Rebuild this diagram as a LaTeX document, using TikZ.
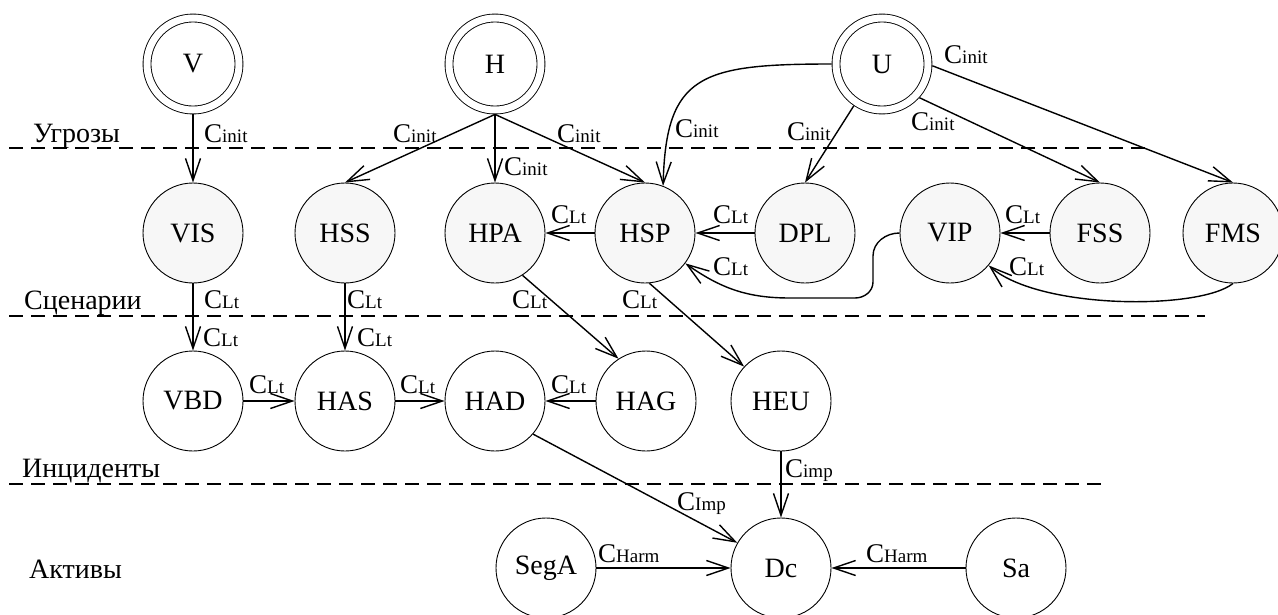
\documentclass[tikz,border=0pt]{standalone}
\usepackage{fontspec}
\setmainfont{Liberation Serif}
\usetikzlibrary{arrows.meta}

% "C" with a smaller index on the same baseline
\newcommand\clab[1]{C{\fontsize{19}{20}\selectfont #1}}

\tikzset{
  base/.style={circle, draw, line width=0.9pt, minimum size=100pt, inner sep=0pt,
               fill=white, font=\fontsize{28}{30}\selectfont},
  threat/.style={base, minimum size=92pt, double, double distance=7pt, outer sep=4.4pt},
  scen/.style={base, fill=gray!6},
  link/.style={line width=1.4pt, -{Straight Barb[length=22pt,width=15pt]}},
  lab/.style={anchor=base west, inner sep=0pt, font=\fontsize{27}{30}\selectfont},
  sec/.style={anchor=base west, inner sep=0pt, font=\fontsize{28}{30}\selectfont},
  layer/.style={line width=1.3pt, dash pattern=on 14pt off 8pt},
}

\begin{document}
\begin{tikzpicture}[x=1pt, y=1pt]
\useasboundingbox (0,0) rectangle (1278,-614);

% layer separators
\draw[layer] (9,-148) -- (1150,-148);
\draw[layer] (9,-316) -- (1205,-316);
\draw[layer] (9,-484) -- (1105,-484);

% layer names
\node[sec] (tUgr) at (33,-142) {Угрозы};
\node[sec] (tScn) at (24,-309) {Сценарии};
\node[sec] (tInc) at (22,-477) {Инциденты};
\node[sec] (tAkt) at (29,-578) {Активы};

% threats
\node[threat] (V) at (193,-64) {V};
\node[threat] (H) at (495,-64) {H};
\node[threat] (U) at (882,-64) {U};

% scenarios
\node[scen] (VIS) at (193,-233) {VIS};
\node[scen] (HSS) at (345,-233) {HSS};
\node[scen] (HPA) at (495,-233) {HPA};
\node[scen] (HSP) at (645,-233) {HSP};
\node[scen] (DPL) at (805,-233) {DPL};
\node[scen] (VIP) at (950,-233) {VIP};
\node[scen] (FSS) at (1100,-233) {FSS};
\node[scen] (FMS) at (1233,-233) {FMS};

% incidents
\node[base] (VBD) at (193,-401) {VBD};
\node[base] (HAS) at (345,-401) {HAS};
\node[base] (HAD) at (495,-401) {HAD};
\node[base] (HAG) at (646,-401) {HAG};
\node[base] (HEU) at (781,-401) {HEU};

% assets
\node[base] (SegA) at (546,-568) {SegA};
\node[base] (Dc) at (781,-568) {Dc};
\node[base] (Sa) at (1016,-568) {Sa};

% threats -> scenarios
\draw[link] (V.south) -- (VIS.north);
\draw[link] (H.south) -- (HSS.north);
\draw[link] (H.south) -- (HPA.north);
\draw[link] (H.south) -- (HSP.north);
\draw[link] (U.west) .. controls (700,-64) and (666,-75) .. (HSP.69);
\draw[link] (U.-124) -- (DPL.north);
\draw[link] (U.-42) -- (FSS.north);
\draw[link] (U.-2) -- (FMS.north);

% scenario -> scenario
\draw[link] (HSP.west) -- (HPA.east);
\draw[link] (DPL.west) -- (HSP.east);
\draw[link] (FSS.west) -- (VIP.east);
\draw[link] (VIP.west) to[out=180,in=90] (873,-256) -- (873,-282)
  to[out=-90,in=0] (855,-298) -- (790,-298) to[out=180,in=-35] (HSP.-37);
\draw[link] (FMS.south) .. controls (1200,-310) and (1040,-310) .. (VIP.-40);

% scenarios -> incidents
\draw[link] (VIS.south) -- (VBD.north);
\draw[link] (HSS.south) -- (HAS.north);
\draw[link] (HPA.-57) -- (HAG.123);
\draw[link] (HSP.-85) -- (HEU.137);

% incident -> incident
\draw[link] (VBD.east) -- (HAS.west);
\draw[link] (HAS.east) -- (HAD.west);
\draw[link] (HAG.west) -- (HAD.east);

% incidents / assets -> Dc
\draw[link] (HAD.-41) -- (Dc.150);
\draw[link] (HEU.south) -- (Dc.north);
\draw[link] (SegA.east) -- (Dc.west);
\draw[link] (Sa.west) -- (Dc.east);

% link weights
\node[lab] (wV)    at (204,-142) {\clab{init}};
\node[lab] (wHS)   at (393,-142) {\clab{init}};
\node[lab] (wHP)   at (504,-175) {\clab{init}};
\node[lab] (wHH)   at (557,-142) {\clab{init}};
\node[lab] (wUH)   at (675,-137) {\clab{init}};
\node[lab] (wUD)   at (787,-140) {\clab{init}};
\node[lab] (wUF)   at (911,-130) {\clab{init}};
\node[lab] (wUM)   at (944,-63)  {\clab{init}};

\node[lab] (wSP)   at (551,-223) {\clab{Lt}};
\node[lab] (wDS)   at (713,-223) {\clab{Lt}};
\node[lab] (wFV)   at (1005,-223) {\clab{Lt}};
\node[lab] (wVS)   at (713,-275) {\clab{Lt}};
\node[lab] (wMV)   at (1009,-275) {\clab{Lt}};

\node[lab] (wVa)   at (204,-308) {\clab{Lt}};
\node[lab] (wVb)   at (203,-346) {\clab{Lt}};
\node[lab] (wHa)   at (347,-308) {\clab{Lt}};
\node[lab] (wHb)   at (357,-346) {\clab{Lt}};
\node[lab] (wPG)   at (512,-308) {\clab{Lt}};
\node[lab] (wSE)   at (622,-308) {\clab{Lt}};

\node[lab] (wBA)   at (249,-393) {\clab{Lt}};
\node[lab] (wAD)   at (400,-393) {\clab{Lt}};
\node[lab] (wGD)   at (551,-393) {\clab{Lt}};

\node[lab] (wDD)   at (677,-510) {\clab{Imp}};
\node[lab] (wED)   at (785,-477) {\clab{imp}};
\node[lab] (wSgD)  at (598,-562) {\clab{Harm}};
\node[lab] (wSaD)  at (866,-562) {\clab{Harm}};
\end{tikzpicture}
\end{document}
